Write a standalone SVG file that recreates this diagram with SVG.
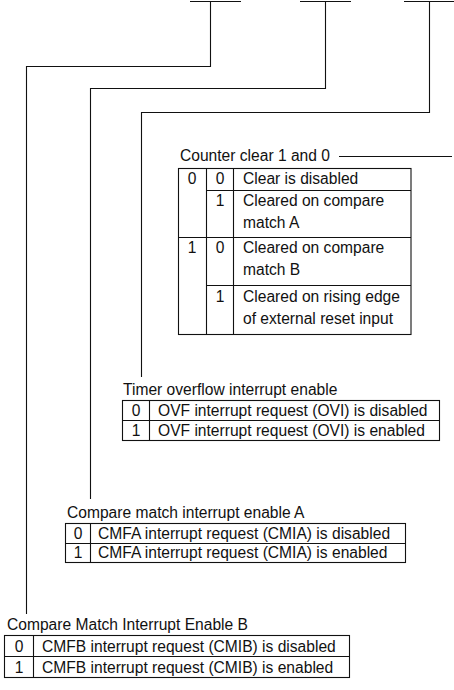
<svg xmlns="http://www.w3.org/2000/svg" width="454" height="690" viewBox="0 0 454 690">
<style>
text{font-family:"Liberation Sans",Arial,sans-serif;font-size:15.6px;fill:#111}
.c{text-anchor:middle}
.ln{fill:none;stroke:#111;stroke-width:1.1}
.bx{fill:none;stroke:#111;stroke-width:1.1}
</style>
<rect width="454" height="690" fill="#fff"/>
<g id="connectors">
<path class="ln" d="M190 1.5H241M210.5 1.5V66.5H26.5V614"/>
<path class="ln" d="M300 1.5H351M325.5 1.5V88.5H90.5V499"/>
<path class="ln" d="M404 1.5H454M429.5 1.5V112.5H141.5V377"/>
<path class="ln" d="M339 156.5H452"/>
</g>
<g id="counter-clear">
<text x="180" y="161">Counter clear 1 and 0</text>
<rect class="bx" x="178.5" y="168.5" width="232.5" height="166"/>
<path class="ln" d="M206.5 168.5V334.5M233.5 168.5V334.5M206.5 190.5H411M178.5 237.5H411M206.5 285.5H411"/>
<text class="c" x="192" y="184">0</text><text class="c" x="220" y="184">0</text><text x="243" y="184">Clear is disabled</text>
<text class="c" x="220" y="206">1</text><text x="243" y="206">Cleared on compare</text><text x="243" y="228">match A</text>
<text class="c" x="192" y="253">1</text><text class="c" x="220" y="253">0</text><text x="243" y="253">Cleared on compare</text><text x="243" y="275">match B</text>
<text class="c" x="220" y="302">1</text><text x="243" y="302">Cleared on rising edge</text><text x="243" y="324">of external reset input</text>
</g>
<g id="timer-overflow">
<text x="123" y="395">Timer overflow interrupt enable</text>
<rect class="bx" x="122.5" y="400.5" width="317" height="40"/>
<path class="ln" d="M149.5 400.5V440.5M122.5 420.5H439.5"/>
<text class="c" x="136" y="416">0</text><text x="158" y="416">OVF interrupt request (OVI) is disabled</text>
<text class="c" x="136" y="436">1</text><text x="158" y="436">OVF interrupt request (OVI) is enabled</text>
</g>
<g id="compare-a">
<text x="67" y="518">Compare match interrupt enable A</text>
<rect class="bx" x="65.5" y="523.5" width="340" height="39"/>
<path class="ln" d="M90.5 523.5V562.5M65.5 543.5H405.5"/>
<text class="c" x="78" y="539">0</text><text x="98" y="539">CMFA interrupt request (CMIA) is disabled</text>
<text class="c" x="78" y="558">1</text><text x="98" y="558">CMFA interrupt request (CMIA) is enabled</text>
</g>
<g id="compare-b">
<text x="7" y="630">Compare Match Interrupt Enable B</text>
<rect class="bx" x="4.5" y="635.5" width="345" height="42"/>
<path class="ln" d="M33.5 635.5V677.5M4.5 656.5H349.5"/>
<text class="c" x="19" y="652">0</text><text x="42" y="652">CMFB interrupt request (CMIB) is disabled</text>
<text class="c" x="19" y="673">1</text><text x="42" y="673">CMFB interrupt request (CMIB) is enabled</text>
</g>
</svg>
